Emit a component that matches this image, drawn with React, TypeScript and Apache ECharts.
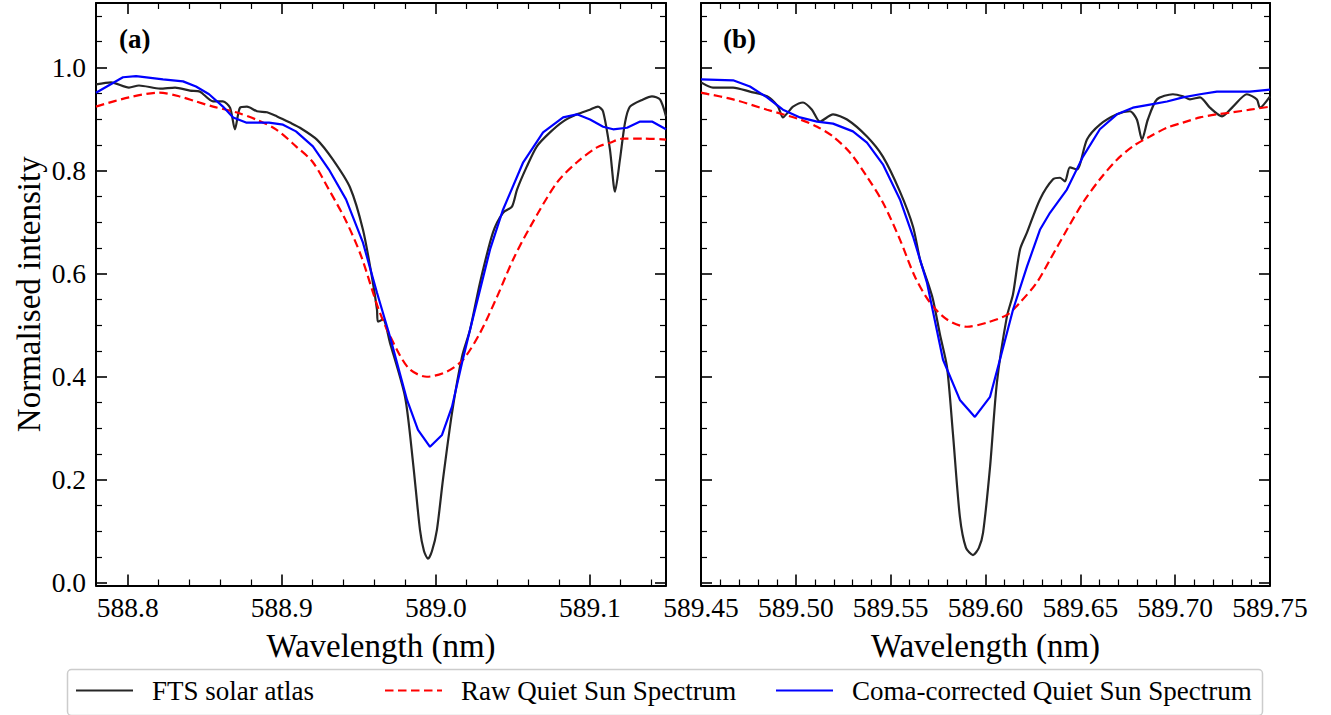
import React, { useEffect, useRef } from "react";
import * as echarts from "echarts";

// ---------- Tick values ----------
const yMajor = [0, 0.2, 0.4, 0.6, 0.8, 1.0];
const yMinor = [0.05, 0.1, 0.15, 0.25, 0.3, 0.35, 0.45, 0.5, 0.55, 0.65, 0.7, 0.75, 0.85, 0.9, 0.95, 1.05, 1.1];
const xMajorA = [588.8, 588.9, 589.0, 589.1];
const xMinorA = [588.82, 588.84, 588.86, 588.88, 588.92, 588.94, 588.96, 588.98, 589.02, 589.04, 589.06, 589.08, 589.12, 589.14];
const xMajorB = [589.45, 589.5, 589.55, 589.6, 589.65, 589.7, 589.75];
const xMinorB = [589.46, 589.47, 589.48, 589.49, 589.51, 589.52, 589.53, 589.54, 589.56, 589.57, 589.58, 589.59, 589.61, 589.62, 589.63, 589.64, 589.66, 589.67, 589.68, 589.69, 589.71, 589.72, 589.73, 589.74];

// ---------- Panel (a) data: [wavelength nm, normalised intensity] ----------
const ftsA = [
  [588.7794, 0.967], [588.7892, 0.971], [588.8008, 0.961], [588.8073, 0.965], [588.821, 0.959],
  [588.8307, 0.961], [588.8404, 0.955], [588.8469, 0.953], [588.8554, 0.934], [588.8618, 0.934],
  [588.8664, 0.922], [588.8696, 0.88], [588.8729, 0.922], [588.8774, 0.924], [588.8839, 0.915],
  [588.8904, 0.913], [588.8969, 0.905], [588.9053, 0.893], [588.9118, 0.883], [588.9228, 0.86],
  [588.9332, 0.821], [588.9443, 0.767], [588.9527, 0.685], [588.9585, 0.594], [588.9618, 0.53],
  [588.9624, 0.507], [588.9657, 0.511], [588.9702, 0.466], [588.98, 0.361], [588.9852, 0.233],
  [588.9897, 0.103], [588.9923, 0.062], [588.9949, 0.047], [588.9975, 0.062], [589.0007, 0.103],
  [589.0046, 0.2], [589.0105, 0.33], [589.017, 0.439], [589.0222, 0.491], [589.0287, 0.583],
  [589.0371, 0.68], [589.0436, 0.718], [589.0494, 0.73], [589.0527, 0.763], [589.0591, 0.808],
  [589.0656, 0.847], [589.0741, 0.874], [589.0825, 0.895], [589.0916, 0.909], [589.1, 0.918],
  [589.1052, 0.924], [589.1085, 0.915], [589.113, 0.841], [589.1163, 0.759], [589.1195, 0.821],
  [589.1228, 0.893], [589.126, 0.924], [589.1345, 0.938], [589.1403, 0.944], [589.1455, 0.938],
  [589.1494, 0.905],
];
const rawA = [
  [588.7794, 0.924], [588.8008, 0.942], [588.8203, 0.951], [588.8333, 0.944], [588.8443, 0.934],
  [588.8554, 0.924], [588.8703, 0.913], [588.8833, 0.899], [588.8962, 0.88], [588.9092, 0.847],
  [588.9202, 0.816], [588.9306, 0.763], [588.9417, 0.702], [588.9514, 0.635], [588.9637, 0.524],
  [588.9748, 0.452], [588.9832, 0.414], [588.9942, 0.4], [589.0072, 0.41], [589.0176, 0.433],
  [589.0287, 0.485], [589.0397, 0.555], [589.0501, 0.627], [589.0611, 0.69], [589.0787, 0.777],
  [589.0916, 0.816], [589.1046, 0.845], [589.1131, 0.854], [589.1215, 0.862], [589.1345, 0.862],
  [589.1494, 0.86],
];
const comaA = [
  [588.7794, 0.951], [588.7969, 0.981], [588.8054, 0.983], [588.8229, 0.977], [588.8359, 0.973],
  [588.8443, 0.963], [588.8528, 0.948], [588.8618, 0.924], [588.8684, 0.903], [588.8768, 0.893],
  [588.8917, 0.893], [588.9008, 0.889], [588.9092, 0.876], [588.9202, 0.847], [588.9306, 0.802],
  [588.9417, 0.744], [588.9527, 0.66], [588.9618, 0.563], [588.9702, 0.478], [588.9813, 0.355],
  [588.9884, 0.297], [588.9962, 0.264], [589.004, 0.287], [589.0105, 0.342], [589.017, 0.427],
  [589.0222, 0.491], [589.0287, 0.569], [589.0352, 0.647], [589.0436, 0.724], [589.0567, 0.816],
  [589.0696, 0.874], [589.0826, 0.903], [589.0916, 0.909], [589.1001, 0.899], [589.1086, 0.885],
  [589.1151, 0.88], [589.1241, 0.883], [589.1326, 0.895], [589.1403, 0.895], [589.1494, 0.88],
];

// ---------- Panel (b) data ----------
const ftsB = [
  [589.45, 0.971], [589.4563, 0.961], [589.4669, 0.961], [589.4758, 0.953], [589.4848, 0.944],
  [589.4906, 0.924], [589.4932, 0.903], [589.4959, 0.913], [589.4985, 0.924], [589.5038, 0.932],
  [589.5085, 0.918], [589.5127, 0.895], [589.5196, 0.909], [589.527, 0.899], [589.5375, 0.866],
  [589.5459, 0.827], [589.5549, 0.759], [589.5618, 0.691], [589.5655, 0.627], [589.5691, 0.588],
  [589.5723, 0.55], [589.576, 0.482], [589.5797, 0.419], [589.5828, 0.291], [589.5865, 0.128],
  [589.5897, 0.068], [589.5934, 0.054], [589.5965, 0.068], [589.5987, 0.097], [589.6024, 0.225],
  [589.606, 0.388], [589.6113, 0.517], [589.6145, 0.56], [589.6182, 0.647], [589.6219, 0.68],
  [589.6287, 0.744], [589.6356, 0.783], [589.6393, 0.786], [589.6419, 0.779], [589.6445, 0.806],
  [589.6482, 0.802], [589.6535, 0.86], [589.6603, 0.889], [589.6693, 0.909], [589.6762, 0.915],
  [589.6798, 0.899], [589.6825, 0.86], [589.6856, 0.899], [589.6904, 0.938], [589.6988, 0.948],
  [589.7041, 0.944], [589.7078, 0.938], [589.7131, 0.942], [589.7183, 0.922], [589.7247, 0.905],
  [589.7305, 0.924], [589.7378, 0.948], [589.7431, 0.938], [589.7447, 0.922], [589.75, 0.944],
];
const rawB = [
  [589.45, 0.951], [589.4669, 0.938], [589.4848, 0.918], [589.5022, 0.899], [589.5112, 0.885],
  [589.5196, 0.866], [589.5285, 0.835], [589.5375, 0.788], [589.5459, 0.738], [589.5549, 0.666],
  [589.5628, 0.594], [589.5707, 0.544], [589.5797, 0.511], [589.5902, 0.497], [589.6008, 0.505],
  [589.6113, 0.52], [589.6182, 0.544], [589.6271, 0.583], [589.634, 0.627], [589.6429, 0.685],
  [589.6514, 0.738], [589.6603, 0.783], [589.6693, 0.821], [589.6777, 0.847], [589.6867, 0.866],
  [589.6957, 0.883], [589.7041, 0.893], [589.7131, 0.903], [589.722, 0.909], [589.7305, 0.913],
  [589.7394, 0.918], [589.75, 0.924],
];
const comaB = [
  [589.45, 0.977], [589.4669, 0.975], [589.4758, 0.963], [589.4848, 0.942], [589.4932, 0.918],
  [589.5022, 0.903], [589.5112, 0.895], [589.5196, 0.891], [589.5301, 0.876], [589.5375, 0.854],
  [589.5459, 0.812], [589.5549, 0.744], [589.5618, 0.672], [589.5691, 0.583], [589.5776, 0.433],
  [589.5865, 0.355], [589.5944, 0.322], [589.6024, 0.361], [589.6076, 0.433], [589.6145, 0.53],
  [589.6219, 0.614], [589.6287, 0.685], [589.634, 0.718], [589.6429, 0.763], [589.6514, 0.827],
  [589.6603, 0.88], [589.6693, 0.909], [589.6777, 0.922], [589.6867, 0.928], [589.6957, 0.934],
  [589.7041, 0.942], [589.7131, 0.948], [589.722, 0.953], [589.7305, 0.953], [589.7394, 0.953],
  [589.75, 0.957],
];

const seriesNames = ["FTS solar atlas", "Raw Quiet Sun Spectrum", "Coma-corrected Quiet Sun Spectrum"];

const FONT = "'Liberation Serif', 'Times New Roman', serif";
const Y_MIN = -0.005;
const Y_MAX = 1.125;

function makeXAxes(gridIndex: number, min: number, max: number, majors: number[], minors: number[], dec: number) {
  const base: any = {
    type: "value",
    gridIndex,
    min,
    max,
    splitLine: { show: false },
    axisLine: { show: true, onZero: false, lineStyle: { color: "#000", width: 2 } },
  };
  const majorTick = { show: true, inside: true, length: 11, lineStyle: { color: "#000", width: 1.6 }, customValues: majors };
  const minorTick = { show: true, inside: true, length: 6, lineStyle: { color: "#000", width: 1.2 }, customValues: minors };
  return [
    {
      ...base,
      position: "bottom",
      axisTick: majorTick,
      axisLabel: {
        customValues: majors,
        formatter: (v: number) => v.toFixed(dec),
        fontFamily: FONT,
        fontSize: 27.5,
        color: "#000",
        margin: 8,
      },
      name: "Wavelength (nm)",
      nameLocation: "middle",
      nameGap: 44,
      nameTextStyle: { fontFamily: FONT, fontSize: 33, color: "#000" },
    },
    { ...base, position: "bottom", axisLine: { show: false, onZero: false }, axisTick: minorTick, axisLabel: { show: false } },
    { ...base, position: "top", axisTick: majorTick, axisLabel: { show: false } },
    { ...base, position: "top", axisLine: { show: false, onZero: false }, axisTick: minorTick, axisLabel: { show: false } },
  ];
}

function makeYAxes(gridIndex: number, withLabels: boolean) {
  const base: any = {
    type: "value",
    gridIndex,
    min: Y_MIN,
    max: Y_MAX,
    splitLine: { show: false },
    axisLine: { show: true, onZero: false, lineStyle: { color: "#000", width: 2 } },
  };
  const majorTick = { show: true, inside: true, length: 11, lineStyle: { color: "#000", width: 1.6 }, customValues: yMajor };
  const minorTick = { show: true, inside: true, length: 6, lineStyle: { color: "#000", width: 1.2 }, customValues: yMinor };
  const main: any = {
    ...base,
    position: "left",
    axisTick: majorTick,
    axisLabel: withLabels
      ? {
          customValues: yMajor,
          formatter: (v: number) => v.toFixed(1),
          fontFamily: FONT,
          fontSize: 27.5,
          color: "#000",
          margin: 10,
        }
      : { show: false },
  };
  if (withLabels) {
    main.name = "Normalised intensity";
    main.nameLocation = "middle";
    main.nameGap = 51;
    main.nameRotate = 90;
    main.nameTextStyle = { fontFamily: FONT, fontSize: 33, color: "#000" };
  }
  return [
    main,
    { ...base, position: "left", axisLine: { show: false, onZero: false }, axisTick: minorTick, axisLabel: { show: false } },
    { ...base, position: "right", axisTick: majorTick, axisLabel: { show: false } },
    { ...base, position: "right", axisLine: { show: false, onZero: false }, axisTick: minorTick, axisLabel: { show: false } },
  ];
}

function lineSeries(name: string, data: number[][], axisIdx: number, color: string, dashed: boolean, smooth: number, z: number) {
  return {
    type: "line",
    name,
    data,
    xAxisIndex: axisIdx,
    yAxisIndex: axisIdx,
    symbol: "none",
    showSymbol: false,
    smooth,
    z,
    lineStyle: { color, width: 2.2, type: dashed ? [8.5, 4.5] : "solid" },
    itemStyle: { color },
  };
}

export default function App() {
  const ref = useRef<HTMLDivElement>(null);
  useEffect(() => {
    if (!ref.current) return;
    const chart = echarts.init(ref.current, undefined, { renderer: "svg" });
    const legendText = { fontFamily: FONT, fontSize: 27, color: "#000", padding: [0, 0, 0, 14] };
    const hiddenSymbol = { color: "rgba(0,0,0,0)", borderColor: "rgba(0,0,0,0)", borderWidth: 0 };
    const legendBase = { top: 677, padding: 0, itemWidth: 57, itemHeight: 14, textStyle: legendText, itemStyle: hiddenSymbol, selectedMode: false };
    const option: any = {
      animation: false,
      backgroundColor: "#fff",
      grid: [
        { left: 96, top: 3, width: 570, height: 582.5, containLabel: false },
        { left: 701, top: 3, width: 569, height: 582.5, containLabel: false },
      ],
      xAxis: [
        ...makeXAxes(0, 588.7794, 589.1494, xMajorA, xMinorA, 1),
        ...makeXAxes(1, 589.45, 589.75, xMajorB, xMinorB, 2),
      ],
      yAxis: [...makeYAxes(0, true), ...makeYAxes(1, false)],
      title: [
        { text: "(a)", left: 119, top: 25, padding: 0, textStyle: { fontFamily: FONT, fontSize: 27, fontWeight: "bold", color: "#000" } },
        { text: "(b)", left: 723, top: 25, padding: 0, textStyle: { fontFamily: FONT, fontSize: 27, fontWeight: "bold", color: "#000" } },
      ],
      legend: [
        { ...legendBase, data: [seriesNames[0]], left: 75 },
        { ...legendBase, data: [seriesNames[1]], left: 384 },
        { ...legendBase, data: [seriesNames[2]], left: 775 },
      ],
      graphic: [
        {
          type: "rect",
          shape: { x: 67.5, y: 669.5, width: 1195, height: 46, r: 4 },
          style: { fill: "#fff", stroke: "#cccccc", lineWidth: 1.5 },
          z: -1,
          silent: true,
        },
      ],
      series: [
        lineSeries(seriesNames[0], ftsA, 0, "#262626", false, 0.25, 2),
        lineSeries(seriesNames[1], rawA, 0, "#ff0000", true, 0.3, 3),
        lineSeries(seriesNames[2], comaA, 0, "#0000ff", false, 0, 4),
        lineSeries(seriesNames[0], ftsB, 4, "#262626", false, 0.25, 2),
        lineSeries(seriesNames[1], rawB, 4, "#ff0000", true, 0.3, 3),
        lineSeries(seriesNames[2], comaB, 4, "#0000ff", false, 0, 4),
      ],
    };
    chart.setOption(option);
    return () => chart.dispose();
  }, []);
  return (
    <div
      ref={ref}
      style={{ position: "absolute", left: 0, top: 0, width: 1331, height: 715, background: "#fff" }}
    />
  );
}
